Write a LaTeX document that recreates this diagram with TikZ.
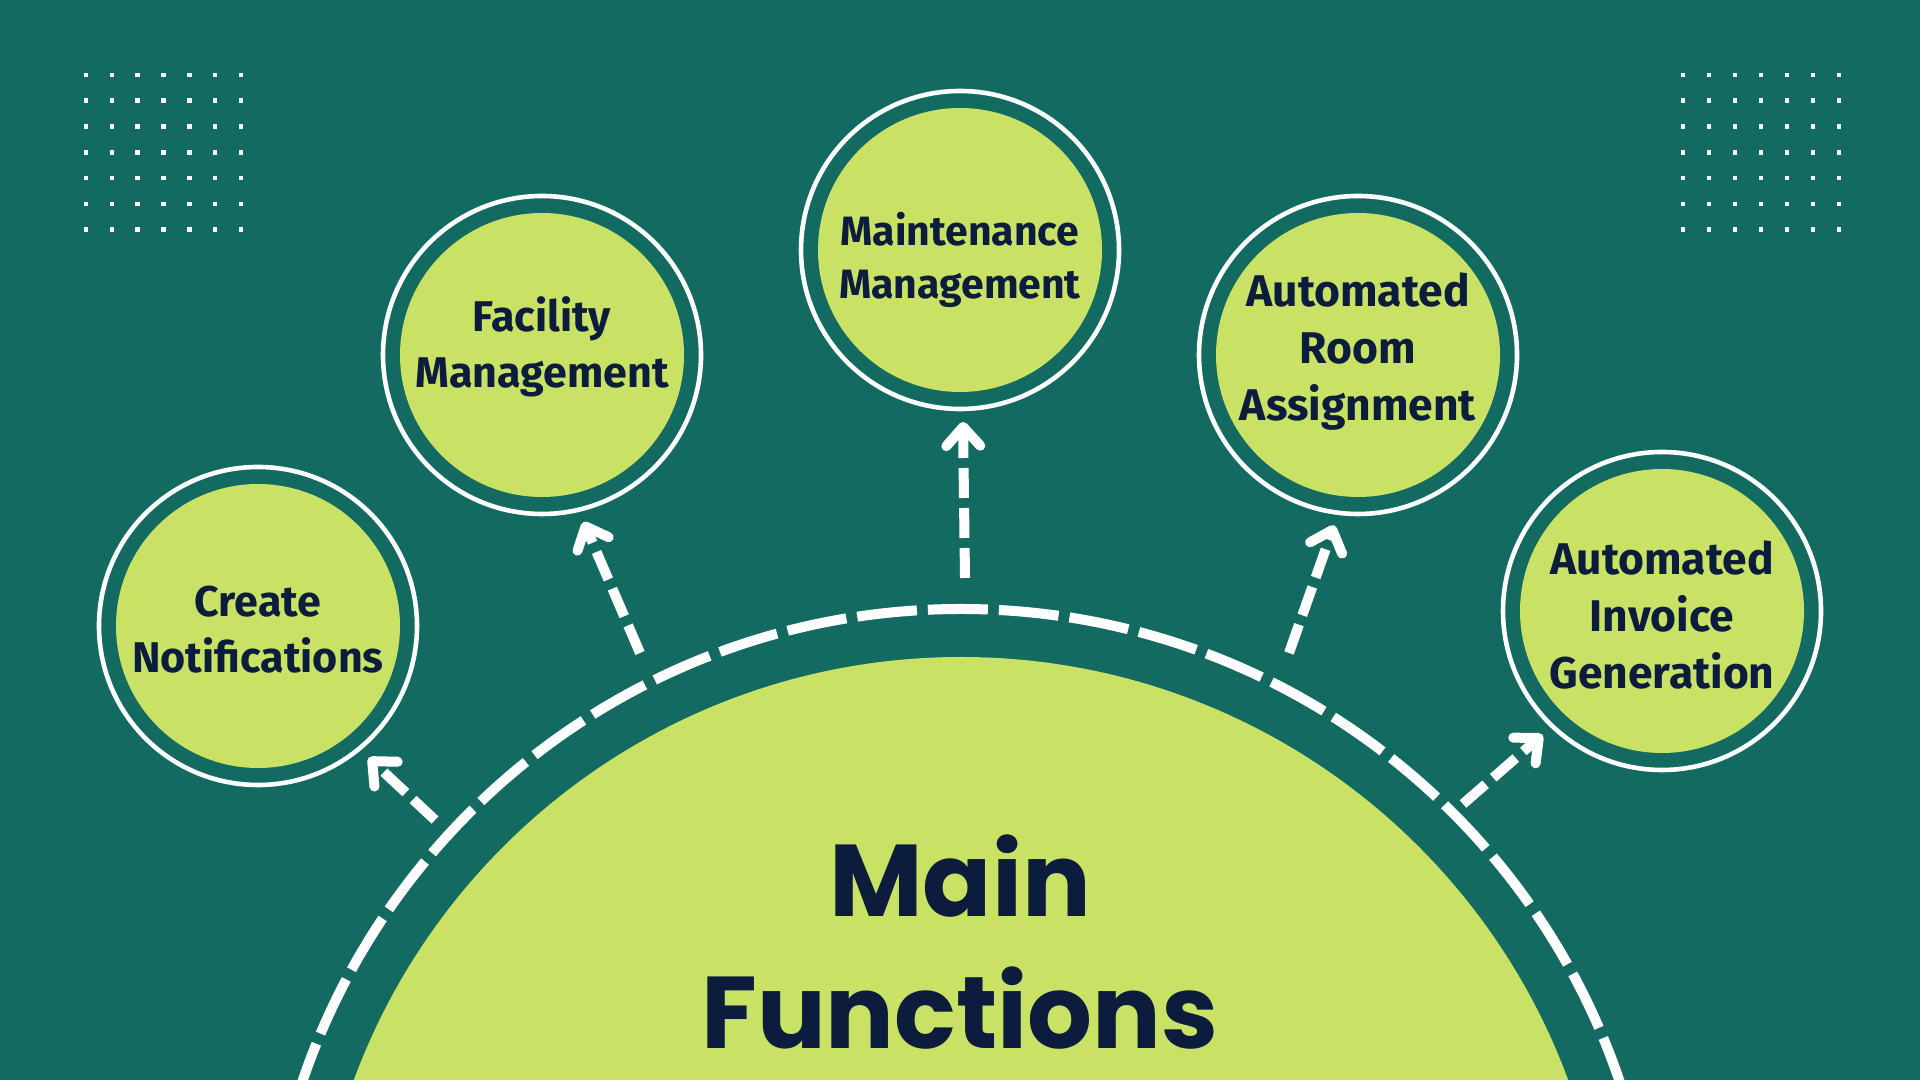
\documentclass[tikz,border=0pt]{standalone}
\usepackage{fontspec}
\usetikzlibrary{arrows.meta}
\newfontfamily\labfont{Fira Sans}
\newfontfamily\titlefont{Poppins}
\definecolor{bgteal}{HTML}{126A61}
\definecolor{limefill}{HTML}{C9E265}
\definecolor{navytext}{HTML}{0B1C3D}
\begin{document}
\begin{tikzpicture}[x=0.5pt,y=0.5pt,
  fn/.style={circle, fill=limefill, minimum size=142pt, inner sep=0pt, outer sep=15pt},
  fnlabel/.style={inner sep=0pt, text=navytext, align=center},
  labA/.style={font=\labfont\bfseries\fontsize{21.5}{28}\selectfont},
  labB/.style={font=\labfont\bfseries\fontsize{20.5}{26.3}\selectfont},
  labC/.style={font=\labfont\bfseries\fontsize{22.2}{28.5}\selectfont},
  ringline/.style={draw=white, line width=2.3pt},
  arr/.style={draw=white, line width=5pt, dash pattern=on 15pt off 5pt,
    -{Straight Barb[length=9.5pt, width=17pt, line width=5pt, round]}},
  arcline/.style={draw=white, line width=5pt, dash pattern=on 30pt off 5.5pt},
  dotsq/.style={fill=white},
  titletext/.style={anchor=base, inner sep=0pt, text=navytext, font=\titlefont\bfseries\fontsize{51}{64}\selectfont}]
\fill[bgteal] (0,0) rectangle (1920,1080);
\useasboundingbox (0,0) rectangle (1920,1080);
\clip (0,0) rectangle (1920,1080);
% dot grids
\foreach \i in {0,...,6} \foreach \j in {0,...,6} {
  \fill[dotsq] ({86+25.8*\i-2.3},{1080-75-25.8*\j-2.3}) rectangle ++(4.6,4.6);
  \fill[dotsq] ({1683+26*\i-2.3},{1080-75-25.8*\j-2.3}) rectangle ++(4.6,4.6);
}
% core
\node[circle, fill=limefill, minimum size=647pt, inner sep=0pt] (core) at (961,-224) {};
\draw[arcline] (core.center) circle (347.5pt);
\node[titletext] (tmain) at (960,163) {Main};
\node[titletext] (tfunc) at (960,31) {Functions};
% function circles
\node[fn] (c1) at (258,454) {};
\node[fn] (c2) at (542,725) {};
\node[fn] (c3) at (960,830) {};
\node[fn] (c4) at (1358,725) {};
\node[fn] (c5) at (1662,469) {};
\foreach \c in {c1,c2,c3,c4,c5} \draw[ringline] (\c.center) circle (79.5pt);
\node[fnlabel, labA] (l1) at ([yshift=-1.8pt]c1.center) {Create\\Notifications};
\node[fnlabel, labA] (l2) at ([yshift=4.3pt]c2.center) {Facility\\Management};
\node[fnlabel, labB] (l3) at ([yshift=-4.9pt]c3.center) {Maintenance\\Management};
\node[fnlabel, labC] (l4) at ([yshift=1.8pt]c4.center) {Automated\\Room\\Assignment};
\node[fnlabel, labC] (l5) at ([yshift=-2.1pt]c5.center) {Automated\\Invoice\\Generation};
% arrow tails
\coordinate (s1) at (435,260);
\coordinate (s2) at (640,427);
\coordinate (s3) at (965,502);
\coordinate (s4) at (1289,427);
\coordinate (s5) at (1463,276);
\draw[arr] (s1) -- (c1.310.5);
\draw[arr] (s2) -- (c2.284.6);
\draw[arr] (s3) -- (c3.271.6);
\draw[arr] (s4) -- (c4.262.2);
\draw[arr] (s5) -- (c5.226.2);
\end{tikzpicture}
\end{document}
